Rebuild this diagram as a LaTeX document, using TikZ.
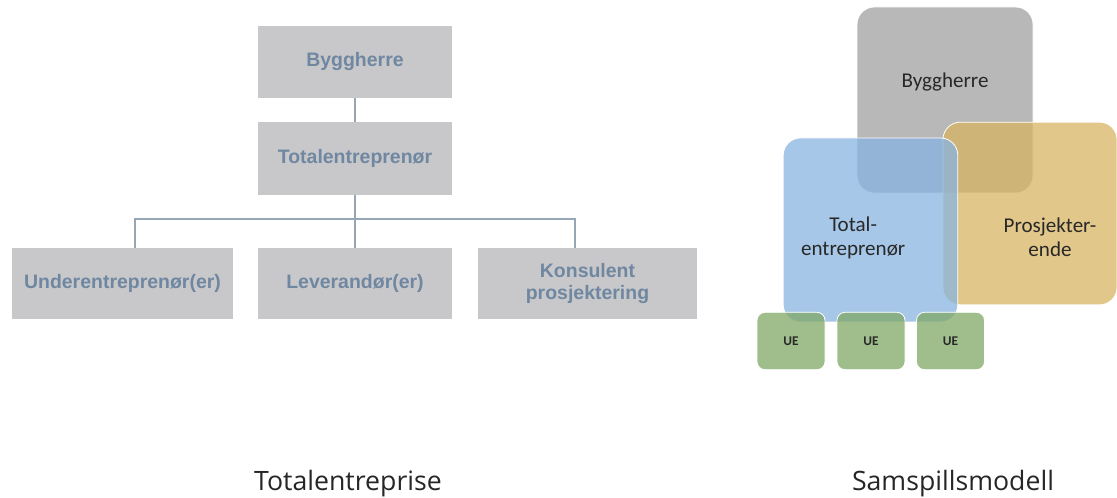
\documentclass[tikz,border=0pt]{standalone}
\usepackage{fontspec}
\setmainfont{Carlito}
\newfontfamily\chartfont{Liberation Sans}
\newfontfamily\captionfont{Open Sans}
\usepackage{tikz}
\usetikzlibrary{positioning,calc}
\definecolor{chartgray}{RGB}{200,200,202}
\definecolor{chartblue}{RGB}{111,135,161}
\definecolor{chartline}{RGB}{150,166,181}
\definecolor{byggray}{RGB}{160,160,160}
\definecolor{teblue}{RGB}{136,180,224}
\definecolor{prorange}{RGB}{216,180,99}
\definecolor{uegreen}{RGB}{128,168,102}
\definecolor{textdark}{RGB}{40,40,40}

\begin{document}
\begin{tikzpicture}[
        x=0.75pt, y=-0.75pt,
        orgbox/.style={rectangle, fill=chartgray, inner sep=0pt, align=center,
            text=chartblue, font=\chartfont\bfseries\fontsize{14.6}{17}\selectfont},
        orgline/.style={draw=chartline, line width=1.1pt},
        bigbox/.style={rectangle, rounded corners=13pt, draw=white, line width=0.6pt,
            fill opacity=0.75, text opacity=1, minimum width=132pt, minimum height=138pt},
        uebox/.style={rectangle, rounded corners=6pt, draw=white, line width=0.6pt,
            fill=uegreen, fill opacity=0.75, text opacity=1, text=textdark,
            minimum width=51pt, minimum height=43pt, font=\bfseries\fontsize{10}{12}\selectfont},
        venntext/.style={text=textdark, align=center, font=\fontsize{15.8}{18}\selectfont},
        caption/.style={font=\captionfont\fontsize{20}{24}\selectfont, text=black!85, anchor=base},
    ]
        \useasboundingbox (0,0) rectangle (1117,498);

        % Totalentreprise: organisation chart
        \node[orgbox, minimum width=145.5pt, minimum height=54pt] (byg) at (355,62) {Byggherre};
        \node[orgbox, minimum width=145.5pt, minimum height=54.5pt] (tot) at (355,158.5) {Totalentreprenør};
        \node[orgbox, minimum width=165.75pt, minimum height=53pt] (und) at (122.5,283.5) {Underentreprenør(er)};
        \node[orgbox, minimum width=145.5pt, minimum height=53pt] (lev) at (355,283.5) {Leverandør(er)};
        \node[orgbox, minimum width=164pt, minimum height=53pt] (kon) at (587.5,283.5) {Konsulent\\prosjektering};

        \coordinate (busL) at (135,219);
        \coordinate (busR) at (575,219);
        \draw[orgline] (byg) -- (tot);
        \draw[orgline] (tot) -- (lev);
        \draw[orgline] (busL |- und.north) -- (busL) -- (busR) -- (busR |- kon.north);

        % Samspillsmodell: overlapping roles
        \node[bigbox, fill=byggray, minimum height=139.5pt,
            label={[venntext, yshift=13.5pt]center:Byggherre}] (rbyg) at (945,100) {};
        \node[bigbox, fill=prorange, minimum width=130.5pt, minimum height=137pt,
            label={[venntext, xshift=15pt, yshift=-18pt]center:Prosjekter-\\ende}] (rpro) at (1030,213.5) {};
        \node[bigbox, fill=teblue, minimum width=131pt,
            label={[venntext, xshift=-13pt, yshift=-6pt]center:Total-\\entreprenør}] (rtot) at (870.5,230) {};

        \node[uebox] (ue1) at (791,341) {UE};
        \node[uebox] (ue2) at (871,341) {UE};
        \node[uebox] (ue3) at (950.5,341) {UE};

        \node[caption] (cap1) at (348,490) {Totalentreprise};
        \node[caption] (cap2) at (953,490) {Samspillsmodell};
    \end{tikzpicture}
\end{document}
